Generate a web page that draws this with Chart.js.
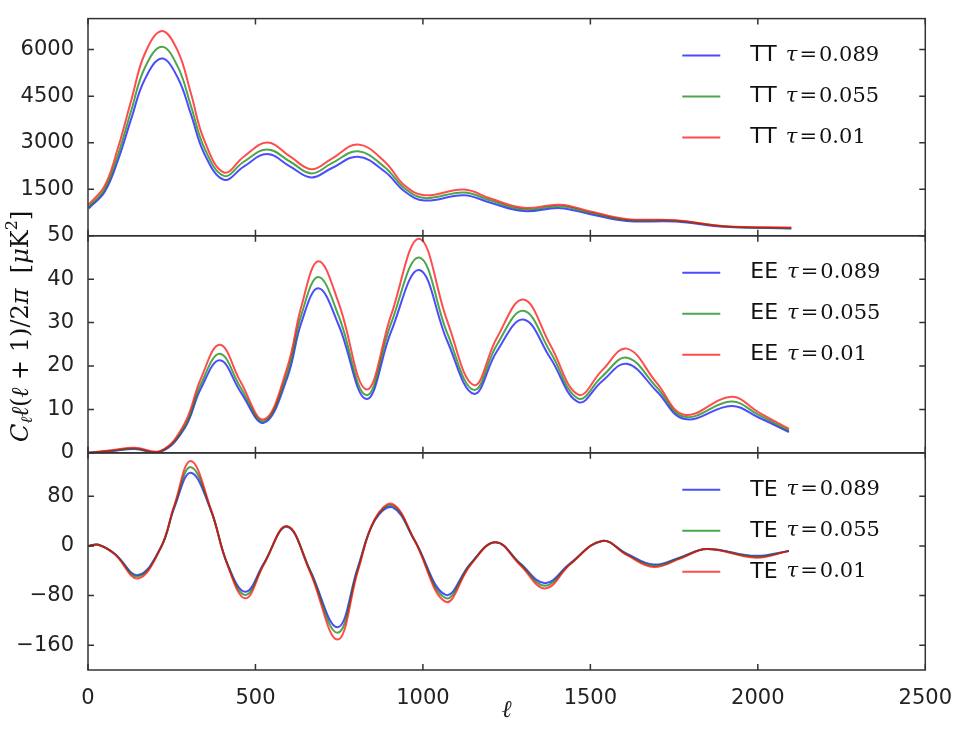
<!DOCTYPE html>
<html lang="en">
<head>
  <meta charset="UTF-8" />
  <title>TT / EE / TE spectra for three tau values</title>
  <script src="https://cdn.jsdelivr.net/npm/chart.js"></script>
  <style>
    html, body { margin: 0; padding: 0; background: #fff; }
    #wrap { width: 960px; height: 735px; }
  </style>
</head>
<body>
  <div id="wrap"><canvas id="cmb" width="960" height="735"></canvas></div>

  <script>
    // values
    const tauLabels = ['0.089', '0.055', '0.01'];
    const lineColors = ['rgba(0,0,255,0.7)', 'rgba(0,128,0,0.7)', 'rgba(255,0,0,0.7)'];

    const xTicks = [0, 500, 1000, 1500, 2000, 2500];
    const ttTicks = [1500, 3000, 4500, 6000];
    const eeTicks = [0, 10, 20, 30, 40, 50];
    const teTicks = [-160, -80, 0, 80];

    const ttEll    = [2, 50, 90, 130, 169, 220, 268, 307, 347, 406, 465, 535, 604, 667, 727, 806, 886, 945, 1004, 1123, 1202, 1300, 1410, 1497, 1607, 1755, 1903, 2100];
    const ttTau089 = [880, 1420, 2450, 3800, 5030, 5710, 5096, 3927, 2653, 1805, 2229, 2633, 2229, 1879, 2175, 2548, 2070, 1433, 1137, 1306, 1061, 796, 890, 700, 478, 455, 287, 233];
    const ttTau055 = [930, 1500, 2620, 4070, 5400, 6096, 5450, 4200, 2840, 1930, 2385, 2782, 2385, 2010, 2330, 2720, 2210, 1530, 1215, 1395, 1135, 850, 950, 750, 510, 485, 300, 245];
    const ttTau01  = [1000, 1610, 2850, 4400, 5850, 6602, 5960, 4600, 3079, 2038, 2548, 3004, 2548, 2143, 2480, 2940, 2389, 1624, 1306, 1490, 1200, 900, 1000, 790, 541, 500, 309, 264];

    const eeEll    = [2, 70, 139, 218, 288, 337, 394, 456, 525, 594, 638, 688, 748, 831, 905, 989, 1073, 1152, 1221, 1300, 1380, 1464, 1535, 1609, 1698, 1781, 1921, 2001, 2093];
    const eeTau089 = [0, 0.4, 0.9, 0.3, 5.6, 14.8, 21.3, 14.0, 6.9, 17.1, 30.2, 37.9, 29.5, 12.4, 27.9, 42.1, 25.7, 13.6, 23.4, 30.7, 21.9, 11.7, 16.5, 20.5, 14.2, 7.8, 10.8, 8.2, 4.8];
    const eeTau055 = [0, 0.5, 1.0, 0.4, 6.0, 15.8, 22.8, 15.0, 7.3, 18.2, 32.0, 40.5, 31.6, 13.3, 29.8, 45.0, 27.5, 14.5, 24.9, 32.7, 23.3, 12.5, 17.6, 21.9, 15.1, 8.3, 11.8, 8.8, 5.1];
    const eeTau01  = [0, 0.6, 1.2, 0.5, 6.7, 17.1, 24.9, 16.3, 7.7, 19.4, 34.0, 44.1, 34.6, 14.6, 31.7, 49.3, 30.3, 15.6, 26.5, 35.3, 24.9, 13.4, 19.0, 24.0, 16.1, 8.8, 12.9, 9.4, 5.5];

    const teEll    = [2, 31, 80, 149, 218, 258, 307, 367, 416, 470, 525, 594, 663, 745, 806, 856, 910, 975, 1068, 1142, 1217, 1291, 1365, 1439, 1535, 1610, 1689, 1770, 1847, 1995, 2093];
    const teTau089 = [0, 2, -12.5, -47, -2, 62, 118, 57, -28.5, -74, -28, 31, -39, -131, -34, 41, 62, 9, -79, -28.5, 6, -28.5, -60, -28.5, 8, -13, -30, -18, -5, -16, -8];
    const teTau055 = [0, 2, -13, -49, -2, 64, 127, 58, -29, -79, -29, 31.5, -40, -140, -37, 42, 65, 9, -84, -29.5, 6, -29.5, -64, -29, 8, -14, -32, -19, -5, -17.5, -8];
    const teTau01  = [0, 2, -13.5, -52.5, -2, 66, 137, 59, -30, -84.5, -30, 32, -42, -151, -40, 43, 67.5, 9, -90, -31, 6, -31, -68.5, -30, 8, -15, -34, -20, -5, -19, -8];

    const panels = [
      { name: 'TT', axis: 'yTT', ell: ttEll, series: [ttTau089, ttTau055, ttTau01] },
      { name: 'EE', axis: 'yEE', ell: eeEll, series: [eeTau089, eeTau055, eeTau01] },
      { name: 'TE', axis: 'yTE', ell: teEll, series: [teTau089, teTau055, teTau01] },
    ];

    const datasets = [];
    panels.forEach(p => {
      p.series.forEach((vals, i) => {
        datasets.push({
          label: p.name + ' τ=' + tauLabels[i],
          data: p.ell.map((l, k) => ({ x: l, y: vals[k] })),
          yAxisID: p.axis,
          borderColor: lineColors[i],
          borderWidth: 2,
          pointRadius: 0,
          fill: false,
          tension: 0.4,
          order: 2 - i
        });
      });
    });

    const tickFont = { family: 'DejaVu Sans', size: 21 };
    const setTicks = list => axis => { axis.ticks = list.map(v => ({ value: v })); };
    const plain = v => String(v).replace('-', '\u2212');

    function yAxis(min, max, list, w) {
      return {
        type: 'linear', position: 'left', stack: 'panels', stackWeight: 1, weight: w,
        min, max,
        afterBuildTicks: setTicks(list),
        afterFit: s => { s.width = 88; },
        grid: { display: false }, border: { display: false },
        ticks: { font: tickFont, color: '#222', padding: 6, autoSkip: false, callback: plain }
      };
    }

    // frame and inward tick marks around each panel
    const frames = {
      id: 'frames',
      afterDraw(chart) {
        const ctx = chart.ctx, { left, right } = chart.chartArea, xs = chart.scales.x;
        ctx.save();
        ctx.strokeStyle = '#333';
        ctx.lineWidth = 1.5;
        panels.forEach(p => {
          const s = chart.scales[p.axis];
          ctx.strokeRect(left, s.top, right - left, s.bottom - s.top);
          ctx.beginPath();
          s.ticks.forEach(t => {
            const y = s.getPixelForValue(t.value);
            ctx.moveTo(left, y); ctx.lineTo(left + 6, y);
            ctx.moveTo(right, y); ctx.lineTo(right - 6, y);
          });
          xs.ticks.forEach(t => {
            const x = xs.getPixelForValue(t.value);
            ctx.moveTo(x, s.top); ctx.lineTo(x, s.top + 6);
            ctx.moveTo(x, s.bottom); ctx.lineTo(x, s.bottom - 6);
          });
          ctx.stroke();
        });
        ctx.restore();
      }
    };

    // one legend per panel, sans name + math tau
    const panelLegend = {
      id: 'panelLegend',
      afterDraw(chart) {
        const ctx = chart.ctx, right = chart.chartArea.right;
        ctx.save();
        ctx.textBaseline = 'middle';
        ctx.textAlign = 'left';
        panels.forEach(p => {
          const s = chart.scales[p.axis];
          tauLabels.forEach((tau, i) => {
            const y = s.top + 37 + i * 41;
            ctx.strokeStyle = lineColors[i];
            ctx.lineWidth = 2;
            ctx.beginPath();
            ctx.moveTo(right - 243, y); ctx.lineTo(right - 205, y);
            ctx.stroke();
            ctx.fillStyle = '#111';
            let x = right - 175;
            ctx.font = '22px "DejaVu Sans"';
            ctx.fillText(p.name, x, y);
            x += ctx.measureText(p.name).width + 9;
            ctx.font = 'italic 21px "DejaVu Serif"';
            ctx.fillText('τ', x, y);
            x += ctx.measureText('τ').width + 2;
            ctx.font = '21px "DejaVu Serif"';
            ctx.fillText('=', x, y);
            x += ctx.measureText('=').width + 2;
            ctx.fillText(tau, x, y);
          });
        });
        ctx.restore();
      }
    };

    // shared y label with subscript / superscript
    const yLabel = {
      id: 'yLabel',
      afterDraw(chart) {
        const ctx = chart.ctx, s = chart.scales.yEE;
        const parts = [
          ['C', 'it'], ['ℓ', 'sub'], ['ℓ', 'it'], ['(', ''], ['ℓ', 'it'], [' + 1)/2', ''],
          ['π', 'it'], ['  [', ''], ['μ', 'it'], ['K', ''], ['2', 'sup'], [']', '']
        ];
        const fontOf = k => k === 'sub' ? 'italic 16px "DejaVu Serif"'
          : k === 'sup' ? '16px "DejaVu Serif"'
          : k === 'it' ? 'italic 24px "DejaVu Serif"' : '24px "DejaVu Serif"';
        ctx.save();
        let total = 0;
        parts.forEach(([t, k]) => { ctx.font = fontOf(k); total += ctx.measureText(t).width; });
        ctx.translate(22, (s.top + s.bottom) / 2 - 18);
        ctx.rotate(-Math.PI / 2);
        ctx.fillStyle = '#111';
        ctx.textBaseline = 'middle';
        ctx.textAlign = 'left';
        let x = -total / 2;
        parts.forEach(([t, k]) => {
          ctx.font = fontOf(k);
          const dy = k === 'sub' ? 6 : k === 'sup' ? -9 : 0;
          ctx.fillText(t, x, dy);
          x += ctx.measureText(t).width;
        });
        ctx.restore();
      }
    };

    new Chart(document.getElementById('cmb'), {
      type: 'line',
      data: { datasets },
      options: {
        responsive: false,
        animation: false,
        devicePixelRatio: 1,
        layout: { padding: { top: 15, right: 30, left: 0, bottom: 0 } },
        plugins: { legend: { display: false }, tooltip: { enabled: false } },
        scales: {
          x: {
            type: 'linear', position: 'bottom', min: 0, max: 2500,
            afterBuildTicks: setTicks(xTicks),
            afterFit: s => { s.height = 65; },
            grid: { display: false }, border: { display: false },
            ticks: { font: tickFont, color: '#222', padding: 8, autoSkip: false, maxRotation: 0, callback: plain },
            title: { display: true, text: 'ℓ', color: '#222', padding: { bottom: 10 },
                     font: { family: 'DejaVu Serif', style: 'italic', size: 24 } }
          },
          yTT: yAxis(0, 7000, ttTicks, 3),
          yEE: yAxis(0, 50, eeTicks, 2),
          yTE: yAxis(-200, 150, teTicks, 1)
        }
      },
      plugins: [frames, panelLegend, yLabel]
    });
  </script>
</body>
</html>
